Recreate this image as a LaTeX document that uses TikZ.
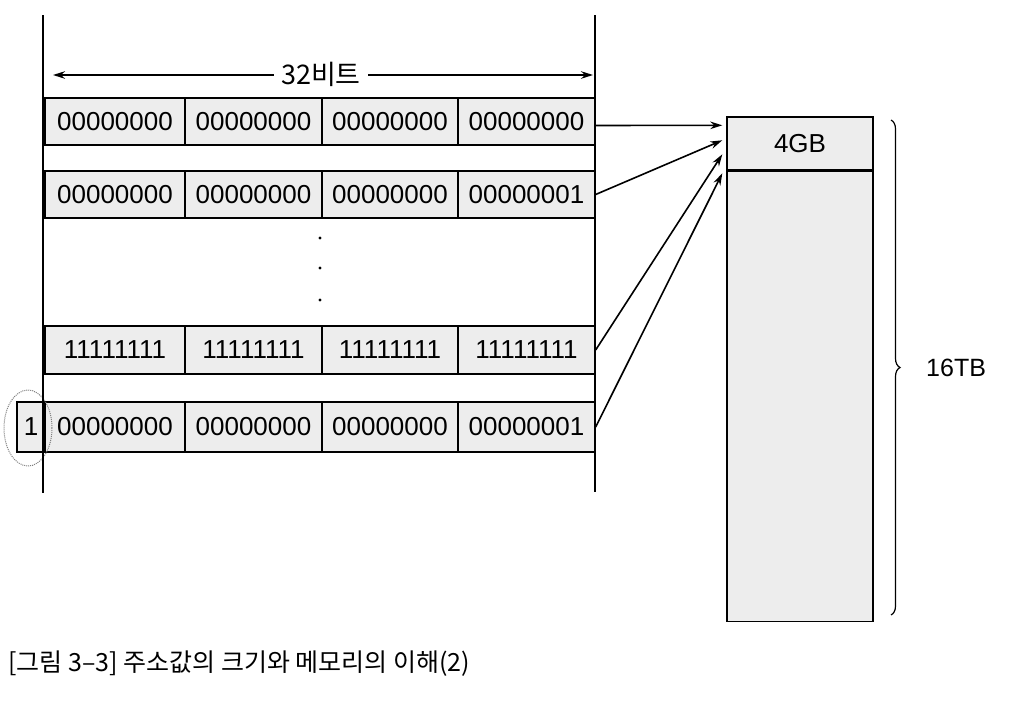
\documentclass[tikz,border=0pt]{standalone}
\usepackage{fontspec}
\setmainfont{Liberation Sans}
\newfontfamily\kr{Noto Sans CJK KR}
\usetikzlibrary{arrows.meta,decorations.pathreplacing,shapes.geometric}
\begin{document}
\begin{tikzpicture}[x=1pt,y=-1pt,
  cell/.style={draw, line width=1.3pt, fill=gray!14, inner sep=0pt, font=\fontsize{26}{26}\selectfont},
  arr/.style={-{Stealth[length=12pt,width=7.5pt]}, line width=1.6pt},
  vline/.style={line width=1.4pt},
  lbl/.style={font=\fontsize{26}{26}\selectfont, inner sep=0pt}]
\useasboundingbox (0,0) rectangle (1024,702);
\fill[white] (0,0) rectangle (1024,702);

% rows of address cells
\foreach \r/\yt/\yb/\a/\b in {1/98/145/00000000/00000000, 2/171/218/00000000/00000001, 3/326/374/11111111/11111111, 4/402/452/00000000/00000001} {
  \foreach \c/\xl/\xr/\t in {1/45/185/\a, 2/185/322/\a, 3/322/458/\a, 4/458/595/\b} {
    \node[cell, minimum width={(\xr-\xl)*1pt}, minimum height={(\yb-\yt)*1pt}] (r\r-\c) at ({(\xl+\xr)/2},{(\yt+\yb)/2}) {\t};
  }
}
% extra carry bit
\node[cell, minimum width=28pt, minimum height=50pt] (carry) at (31,427) {1};
\node[draw=gray, densely dotted, line width=1pt, ellipse, minimum width=48pt, minimum height=76pt] (ring) at (28,428) {};

% vertical boundary lines
\coordinate (lt) at (43,15);
\coordinate (lb) at (43,493);
\coordinate (rt) at (595,15);
\coordinate (rb) at (595,492);
\draw[vline] (lt) -- (lb);
\draw[vline] (rt) -- (rb);

% 32 bit dimension
\node[lbl, inner xsep=7pt, fill=white, font=\kr\fontsize{27}{27}\selectfont] (bits) at (321,74) {32비트};
\coordinate (al) at (53,75);
\coordinate (ar) at (593,75);
\draw[arr] (bits.west |- al) -- (al);
\draw[arr] (bits.east |- ar) -- (ar);

% vertical dots
\foreach \yy in {238,268,300} \fill (320,\yy) circle (1.6);

% memory
\node[draw, line width=1.4pt, fill=gray!14, minimum width=146pt, minimum height=53pt, inner sep=0pt, lbl] (gb) at (800,143.5) {4GB};
\node[draw, line width=1.4pt, fill=gray!14, minimum width=146pt, minimum height=450pt, inner sep=0pt, anchor=north] (mem) at (gb.south) {};

% pointers
\draw[arr] ([shift={(0,4)}]r1-4.east) -- ([shift={(-4,9)}]gb.north west);
\draw[arr] (r2-4.east) -- ([shift={(-4,24)}]gb.north west);
\draw[arr] (r3-4.east) -- ([shift={(-4,38)}]gb.north west);
\draw[arr] (r4-4.east) -- ([shift={(-4,57)}]gb.north west);

% brace
\coordinate (bt) at (891,120);
\coordinate (bb) at (891,615);
\draw[line width=1.2pt, decorate, decoration={brace, amplitude=9pt}] (bt) -- (bb);
\node[lbl, anchor=west, font=\fontsize{25}{25}\selectfont] (tb) at (926,368) {16TB};

% caption
\node[anchor=west, inner sep=0pt, font=\kr\fontsize{25}{25}\selectfont] (cap) at (8,664) {[그림 3–3] 주소값의 크기와 메모리의 이해(2)};
\end{tikzpicture}
\end{document}
